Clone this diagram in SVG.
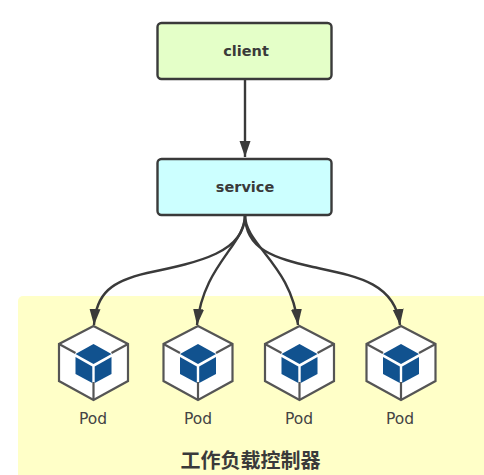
<svg xmlns="http://www.w3.org/2000/svg" width="484" height="475" viewBox="0 0 484 475">
<style>
.box{stroke:#3a3a3a;stroke-width:2.4}
.lbl{font-family:"DejaVu Sans","Liberation Sans",sans-serif;font-size:14.500px;font-weight:bold;fill:#3a3a3a;text-anchor:middle}
.pod{font-family:"DejaVu Sans","Liberation Sans",sans-serif;font-size:15.500px;fill:#444;text-anchor:middle}
.title{font-family:"Noto Sans CJK SC",sans-serif;font-size:20px;font-weight:bold;fill:#3a3a3a;text-anchor:middle}
.conn{fill:none;stroke:#3a3a3a;stroke-width:2.4}
.hex{fill:#fff;stroke:#555;stroke-width:2.2;stroke-linejoin:miter}
.spoke{fill:none;stroke:#555;stroke-width:2.2}
.face{fill:#11528f}
</style>
<defs>
<marker id="ah" markerUnits="userSpaceOnUse" markerWidth="17" markerHeight="12" refX="16" refY="6" orient="auto" viewBox="0 0 17 12"><path d="M0 .5L16 6L0 11.500Z" fill="#3a3a3a"/></marker>
<g id="cube">
<path class="hex" d="M0 -36L34.500 -18L34.500 19L0 38L-34.500 19L-34.500 -18Z"/>
<path class="spoke" d="M34.500 -18L18 -9M-34.500 -18L-18 -9M0 38L0 20"/>
<path class="face" d="M0 -18L18 -8L0 2L-18 -8Z"/>
<path class="face" d="M-18 -5L-1.200 4.500L-1.200 21L-18 12Z"/>
<path class="face" d="M18 -5L1.200 4.500L1.200 21L18 12Z"/>
</g>
</defs>
<rect id="bg" x="18" y="296" width="480" height="190" rx="5" fill="#ffffc8"/>
<g id="connectors">
<path class="conn" marker-end="url(#ah)" d="M245 80L245 157"/>
<path class="conn" marker-end="url(#ah)" d="M245 215C245 252 200 262 147 273C112 281 96 293 94 325"/>
<path class="conn" marker-end="url(#ah)" d="M245 215C245 245 203 265 197 325"/>
<path class="conn" marker-end="url(#ah)" d="M245 215C245 245 292 265 298 325"/>
<path class="conn" marker-end="url(#ah)" d="M245 215C245 250 275 258 313 267C355 276 395 282 400 325"/>
</g>
<g id="client"><rect class="box" x="157.500" y="23" width="174" height="56" rx="4" fill="#e4ffc8"/><text class="lbl" x="246" y="56">client</text></g>
<g id="service"><rect class="box" x="157.500" y="159" width="174" height="56" rx="4" fill="#ccffff"/><text class="lbl" x="245" y="192">service</text></g>
<g id="pod1"><use href="#cube" x="93.500" y="362"/><text class="pod" x="93" y="424">Pod</text></g>
<g id="pod2"><use href="#cube" x="198" y="362"/><text class="pod" x="198" y="424">Pod</text></g>
<g id="pod3"><use href="#cube" x="299.500" y="362"/><text class="pod" x="299" y="424">Pod</text></g>
<g id="pod4"><use href="#cube" x="401" y="362"/><text class="pod" x="400" y="424">Pod</text></g>
<g id="controller"><text class="title" x="250.500" y="468">工作负载控制器</text></g>
</svg>
